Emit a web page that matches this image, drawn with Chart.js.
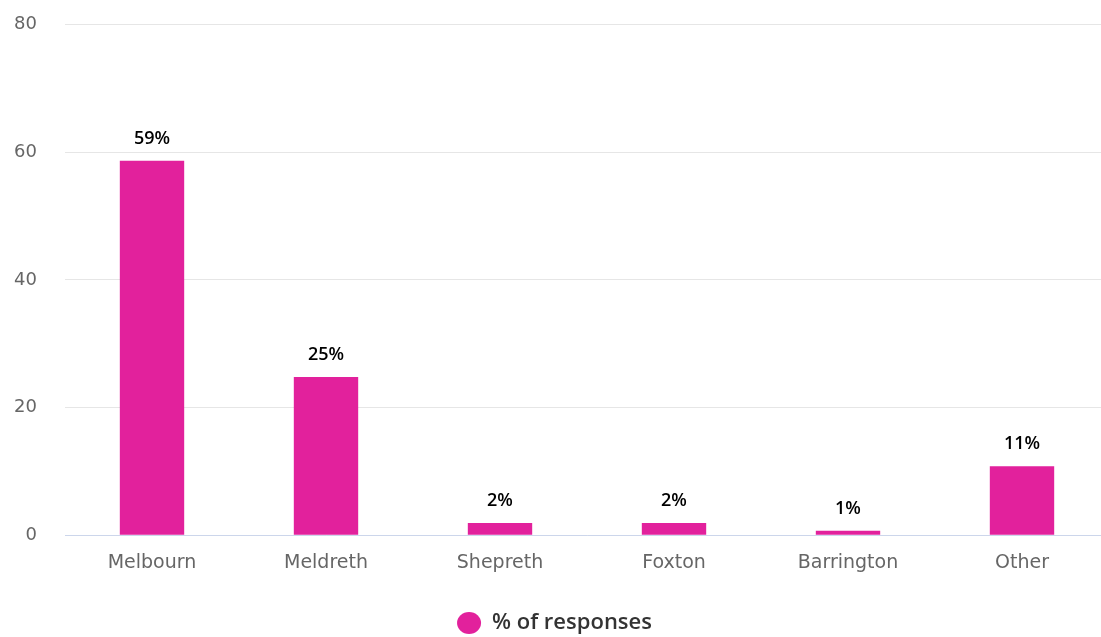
<!DOCTYPE html>
<html>
<head>
<meta charset="utf-8">
<script src="https://cdn.jsdelivr.net/npm/chart.js@4/dist/chart.umd.min.js"></script>
<style>
    html, body { margin: 0; padding: 0; background: #fff; overflow: hidden; }
    #wrap { width: 1109px; height: 660px; margin-top: -14px; }
</style>
</head>
<body>
<div id="wrap"><canvas id="chart"></canvas></div>
<script>
const categories = ['Melbourn', 'Meldreth', 'Shepreth', 'Foxton', 'Barrington', 'Other'];
const responses = [58.7, 24.8, 1.9, 1.9, 0.7, 10.8];
const yTicks = [0, 20, 40, 60, 80];
const seriesName = '% of responses';
const barColor = '#e2219c';

// writes the rounded percentage above every bar
const valueLabels = {
    id: 'valueLabels',
    afterDatasetsDraw(chart) {
        const ctx = chart.ctx;
        const meta = chart.getDatasetMeta(0);
        ctx.save();
        ctx.font = '600 18px "Open Sans", sans-serif';
        ctx.fillStyle = '#000';
        ctx.textAlign = 'center';
        ctx.textBaseline = 'middle';
        meta.data.forEach((bar, i) => {
            ctx.fillText(Math.round(responses[i]) + '%', bar.x, bar.y - 22);
        });
        ctx.restore();
    }
};

new Chart(document.getElementById('chart'), {
    type: 'bar',
    data: {
        labels: categories,
        datasets: [{
            label: seriesName,
            data: responses,
            backgroundColor: barColor,
            borderWidth: 0,
            categoryPercentage: 1,
            barPercentage: 0.37
        }]
    },
    options: {
        responsive: true,
        maintainAspectRatio: false,
        animation: false,
        layout: { padding: { top: 0, left: 0, right: 0, bottom: 2 } },
        scales: {
            x: {
                grid: { display: false, drawTicks: false },
                border: { color: '#ccd6eb', width: 1 },
                ticks: {
                    color: '#666',
                    padding: 16,
                    font: { family: '"DejaVu Sans", sans-serif', size: 19 }
                }
            },
            y: {
                min: 0,
                max: 80,
                afterBuildTicks: axis => { axis.ticks = yTicks.map(v => ({ value: v })); },
                afterFit: axis => { axis.width = 65; },
                grid: { color: '#e6e6e6', drawTicks: false },
                border: { display: false },
                ticks: {
                    color: '#666',
                    padding: 28,
                    font: { family: '"DejaVu Sans", sans-serif', size: 18 }
                }
            }
        },
        plugins: {
            legend: {
                position: 'bottom',
                labels: {
                    usePointStyle: true,
                    pointStyle: 'circle',
                    boxHeight: 15.5,
                    pointStyleWidth: 24,
                    padding: 22,
                    color: '#333',
                    font: { family: '"Open Sans", sans-serif', size: 22, weight: '600' }
                }
            },
            tooltip: { enabled: false }
        }
    },
    plugins: [valueLabels]
});
</script>
</body>
</html>
